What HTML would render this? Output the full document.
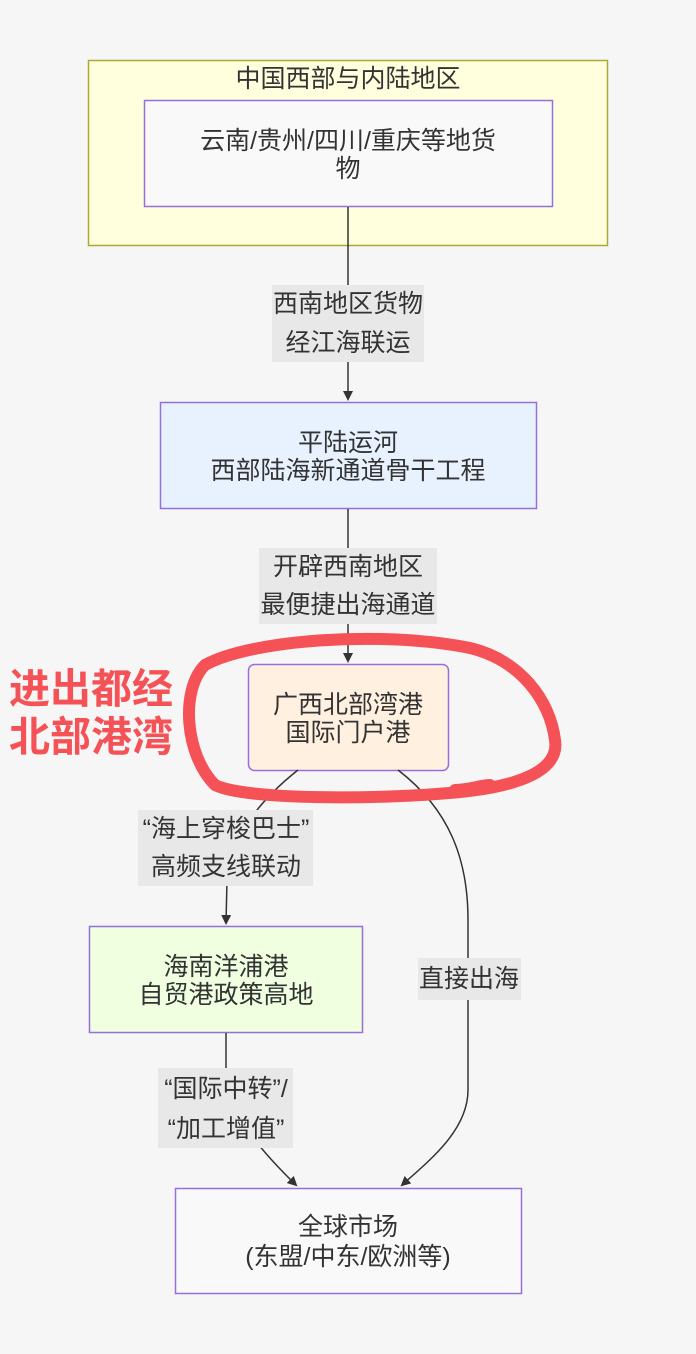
<!DOCTYPE html>
<html><head><meta charset="utf-8"><style>
html,body{margin:0;padding:0;background:#f6f6f6;}
svg{display:block;font-family:"Liberation Sans","Noto Sans CJK SC",sans-serif;}
</style></head><body>
<svg width="696" height="1354" viewBox="0 0 696 1354" xmlns="http://www.w3.org/2000/svg">
<defs><marker id="a" markerWidth="10" markerHeight="10" refX="8" refY="5" orient="auto" markerUnits="userSpaceOnUse"><path d="M0,0 L10,5 L0,10 z" fill="#333"/></marker></defs>
<rect x="0" y="0" width="696" height="1354" fill="#f6f6f6"/>
<rect x="88.5" y="60.5" width="519" height="185" fill="#ffffde" stroke="#aaaa33" stroke-width="1.5"/>
<text x="348" y="87" font-size="25" text-anchor="middle" fill="#333">中国西部与内陆地区</text>
<rect x="144.5" y="100.5" width="408" height="106" fill="#f9f9f9" stroke="#9370db" stroke-width="1.5"/>
<text x="348" y="149" font-size="25" text-anchor="middle" fill="#333">云南/贵州/四川/重庆等地货</text>
<text x="348" y="177" font-size="25" text-anchor="middle" fill="#333">物</text>
<path d="M348,207 L348,399" stroke="#333" stroke-width="1.5" fill="none" marker-end="url(#a)"/>
<rect x="272" y="285" width="152" height="77" fill="#e8e8e8"/>
<text x="348" y="312" font-size="25" text-anchor="middle" fill="#333">西南地区货物</text>
<text x="348" y="351" font-size="25" text-anchor="middle" fill="#333">经江海联运</text>
<rect x="160.5" y="402.5" width="376" height="106" fill="#e8f2ff" stroke="#9370db" stroke-width="1.5"/>
<text x="348" y="451" font-size="25" text-anchor="middle" fill="#333">平陆运河</text>
<text x="348" y="479" font-size="25" text-anchor="middle" fill="#333">西部陆海新通道骨干工程</text>
<path d="M348,509 L348,661" stroke="#333" stroke-width="1.5" fill="none" marker-end="url(#a)"/>
<rect x="259" y="548" width="178" height="76" fill="#e8e8e8"/>
<text x="348" y="575" font-size="25" text-anchor="middle" fill="#333">开辟西南地区</text>
<text x="348" y="613" font-size="25" text-anchor="middle" fill="#333">最便捷出海通道</text>
<rect x="248.5" y="664.5" width="200" height="106" rx="6" fill="#fff0e0" stroke="#9370db" stroke-width="1.5"/>
<text x="348" y="713" font-size="25" text-anchor="middle" fill="#333">广西北部湾港</text>
<text x="348" y="741" font-size="25" text-anchor="middle" fill="#333">国际门户港</text>
<path d="M298,770 C260,800 228,840 227,880 L226,923" stroke="#333" stroke-width="1.5" fill="none" marker-end="url(#a)"/>
<path d="M398,770 C450,810 468,860 468,920 L468,1090 C468,1130 430,1160 402,1185" stroke="#333" stroke-width="1.5" fill="none" marker-end="url(#a)"/>
<rect x="138" y="810" width="175" height="76" fill="#e8e8e8"/>
<text x="226" y="837" font-size="25" text-anchor="middle" fill="#333">“海上穿梭巴士”</text>
<text x="226" y="875" font-size="25" text-anchor="middle" fill="#333">高频支线联动</text>
<rect x="418" y="958" width="103" height="42" fill="#e8e8e8"/>
<text x="469" y="987" font-size="25" text-anchor="middle" fill="#333">直接出海</text>
<rect x="89.5" y="926.5" width="273" height="106" fill="#efffe0" stroke="#9370db" stroke-width="1.5"/>
<text x="226" y="975" font-size="25" text-anchor="middle" fill="#333">海南洋浦港</text>
<text x="226" y="1003" font-size="25" text-anchor="middle" fill="#333">自贸港政策高地</text>
<path d="M226,1033 L226,1075 C226,1110 260,1150 296,1185" stroke="#333" stroke-width="1.5" fill="none" marker-end="url(#a)"/>
<rect x="158" y="1068" width="135" height="80" fill="#e8e8e8"/>
<text x="226" y="1097" font-size="25" text-anchor="middle" fill="#333">“国际中转”/</text>
<text x="226" y="1137" font-size="25" text-anchor="middle" fill="#333">“加工增值”</text>
<rect x="175.5" y="1188.5" width="346" height="105" fill="#f9f9f9" stroke="#9370db" stroke-width="1.5"/>
<text x="348" y="1235" font-size="25" text-anchor="middle" fill="#333">全球市场</text>
<text x="348" y="1265" font-size="25" text-anchor="middle" fill="#333">(东盟/中东/欧洲等)</text>
<path d="M470,648 C380,630 250,640 205,665 C180,690 185,755 215,785 C245,800 380,800 460,792 C520,786 560,770 555,740 C550,700 520,660 470,648 M455,790 C470,790 480,785 490,785" stroke="#f55257" stroke-width="12" fill="none" stroke-linecap="round"/>
<text x="9" y="703" font-size="41" font-weight="bold" fill="#f55257">进出都经</text>
<text x="9" y="751" font-size="41" font-weight="bold" fill="#f55257">北部港湾</text>
</svg>
</body></html>
